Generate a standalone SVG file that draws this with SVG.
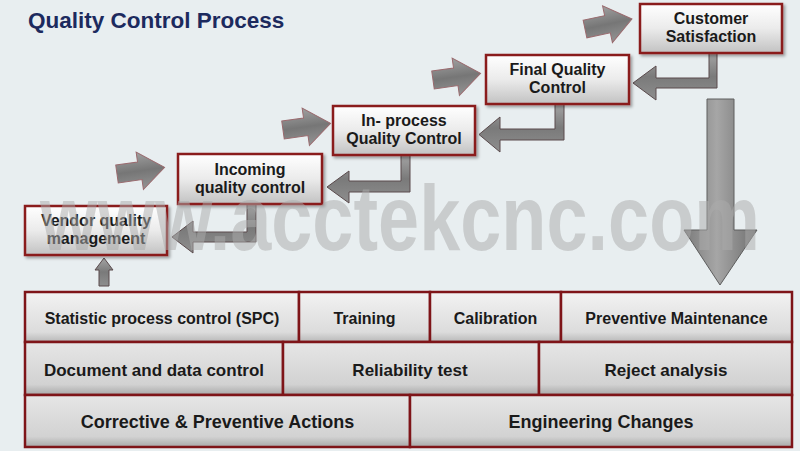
<svg xmlns="http://www.w3.org/2000/svg" width="800" height="451" viewBox="0 0 800 451">
<defs>
<style>
.bg{fill:#e8eef0}
.title{font-family:"Liberation Sans",Arial,sans-serif;font-weight:bold;font-size:22.5px;fill:#1c2a5e}
.box{fill:url(#boxGrad);stroke:#8a1a1e;stroke-width:2.5;filter:url(#shadow)}
.cell{fill:url(#cellGrad);stroke:#7e1418;stroke-width:2.5}
.cell2{fill:url(#cellGrad2);stroke:#7e1418;stroke-width:2.5}
.t{font-family:"Liberation Sans",Arial,sans-serif;font-weight:bold;font-size:16px;fill:#1a1a1a;text-anchor:middle}
.tm{font-family:"Liberation Sans",Arial,sans-serif;font-weight:bold;font-size:17px;fill:#1a1a1a;text-anchor:middle}
.tl{font-family:"Liberation Sans",Arial,sans-serif;font-weight:bold;font-size:18px;fill:#1a1a1a;text-anchor:middle}
.rarrow{fill:url(#rGrad);stroke:#9a6a6e;stroke-width:1}
.bent{fill:url(#bentGrad);stroke:#5a4a4c;stroke-width:1}
.down{fill:url(#downGrad);stroke:#5e5e5e;stroke-width:1}
.wm{font-family:"Liberation Sans",Arial,sans-serif;font-weight:bold;font-size:92px;fill:#acacac;opacity:0.5}
</style>
<linearGradient id="boxGrad" x1="0" y1="0" x2="0" y2="1">
<stop offset="0" stop-color="#ffffff"/><stop offset="0.5" stop-color="#ebebeb"/><stop offset="1" stop-color="#c2c2c2"/>
</linearGradient>
<linearGradient id="cellGrad" x1="0" y1="0" x2="0" y2="1">
<stop offset="0" stop-color="#f2f2f2"/><stop offset="0.8" stop-color="#dcdcdc"/><stop offset="1" stop-color="#b8b8b8"/>
</linearGradient>
<linearGradient id="cellGrad2" x1="0" y1="0" x2="0" y2="1">
<stop offset="0" stop-color="#e6e6e6"/><stop offset="0.8" stop-color="#d2d2d2"/><stop offset="1" stop-color="#a8a8a8"/>
</linearGradient>
<linearGradient id="rGrad" x1="0" y1="0" x2="0" y2="1">
<stop offset="0" stop-color="#a0a0a0"/><stop offset="0.5" stop-color="#767676"/><stop offset="1" stop-color="#949494"/>
</linearGradient>
<linearGradient id="bentGrad" x1="0" y1="0" x2="0" y2="1">
<stop offset="0" stop-color="#a4a4a4"/><stop offset="0.5" stop-color="#7a7a7a"/><stop offset="1" stop-color="#8e8e8e"/>
</linearGradient>
<linearGradient id="downGrad" x1="0" y1="0" x2="1" y2="0">
<stop offset="0" stop-color="#7a7a7a"/><stop offset="0.45" stop-color="#a6a6a6"/><stop offset="1" stop-color="#6e6e6e"/>
</linearGradient>
<filter id="shadow" x="-10%" y="-10%" width="125%" height="130%">
<feDropShadow dx="2" dy="2" stdDeviation="1.5" flood-color="#000" flood-opacity="0.35"/>
</filter>
<polygon id="rArrow" points="0,-9 22,-9 22,-19 48,0 24,19 24,9 0,9"/>
</defs>

<rect class="bg" x="0" y="0" width="800" height="451"/>
<text class="title" x="28" y="28">Quality Control Process</text>

<g id="connectors">
<use href="#rArrow" class="rarrow" transform="translate(117,174) rotate(-8)"/>
<use href="#rArrow" class="rarrow" transform="translate(283,130) rotate(-8)"/>
<use href="#rArrow" class="rarrow" transform="translate(433,80) rotate(-8)"/>
<use href="#rArrow" class="rarrow" transform="translate(585,29) rotate(-12)"/>
<path class="bent" d="M709,53 H717 V88 H656 V100 L633,83 L656,66 V78 H709 Z"/>
<path class="bent" d="M555,104 H564 V140 H500 V152 L479,134.5 L500,117 V129 H555 Z"/>
<path class="bent" d="M401,155 H410 V192 H349 V203 L327,187 L349,171 V181 H401 Z"/>
<path class="bent" d="M247,204 H256 V242 H193 V253 L172,237 L193,221 V232 H247 Z"/>
<path class="down" d="M707,99 H734 V230 H757 L720,285 L684,230 H707 Z"/>
<path class="bent" d="M99,286 V270 H95 L104,258 L113,270 H109 V286 Z"/>
</g>

<g id="customer">
<rect class="box" x="640" y="4" width="142" height="49"/>
<text class="t" x="711" y="24">Customer</text>
<text class="t" x="711" y="42">Satisfaction</text>
</g>
<g id="final">
<rect class="box" x="486" y="55" width="143" height="49"/>
<text class="t" x="557.5" y="75">Final Quality</text>
<text class="t" x="557.5" y="93">Control</text>
</g>
<g id="inprocess">
<rect class="box" x="333" y="106" width="142" height="49"/>
<text class="t" x="404" y="126">In- process</text>
<text class="t" x="404" y="144">Quality Control</text>
</g>
<g id="incoming">
<rect class="box" x="178" y="154" width="144" height="50"/>
<text class="t" x="250" y="175">Incoming</text>
<text class="t" x="250" y="193">quality control</text>
</g>
<g id="vendor">
<rect class="box" x="25" y="206" width="142" height="49"/>
<text class="t" x="96" y="226">Vendor quality</text>
<text class="t" x="96" y="244">management</text>
</g>

<g id="spc"><rect class="cell" x="25" y="292" width="274" height="50"/><text class="t" x="162" y="324">Statistic process control (SPC)</text></g>
<g id="training"><rect class="cell" x="299" y="292" width="131" height="50"/><text class="t" x="364.5" y="324">Training</text></g>
<g id="calibration"><rect class="cell" x="430" y="292" width="131" height="50"/><text class="t" x="495.5" y="324">Calibration</text></g>
<g id="maintenance"><rect class="cell" x="561" y="292" width="231" height="50"/><text class="t" x="676.5" y="324">Preventive Maintenance</text></g>

<g id="document"><rect class="cell2" x="25" y="342" width="258" height="53"/><text class="tm" x="154" y="376">Document and data control</text></g>
<g id="reliability"><rect class="cell2" x="283" y="342" width="256" height="53"/><text class="tm" x="410" y="376">Reliability test</text></g>
<g id="reject"><rect class="cell2" x="539" y="342" width="253" height="53"/><text class="tm" x="666" y="376">Reject analysis</text></g>

<g id="corrective"><rect class="cell2" x="25" y="395" width="385" height="52"/><text class="tl" x="217.5" y="428">Corrective &amp; Preventive Actions</text></g>
<g id="engineering"><rect class="cell2" x="410" y="395" width="382" height="52"/><text class="tl" x="601" y="428">Engineering Changes</text></g>

<text class="wm" x="40" y="250" textLength="720" lengthAdjust="spacingAndGlyphs">www.acctekcnc.com</text>
</svg>
